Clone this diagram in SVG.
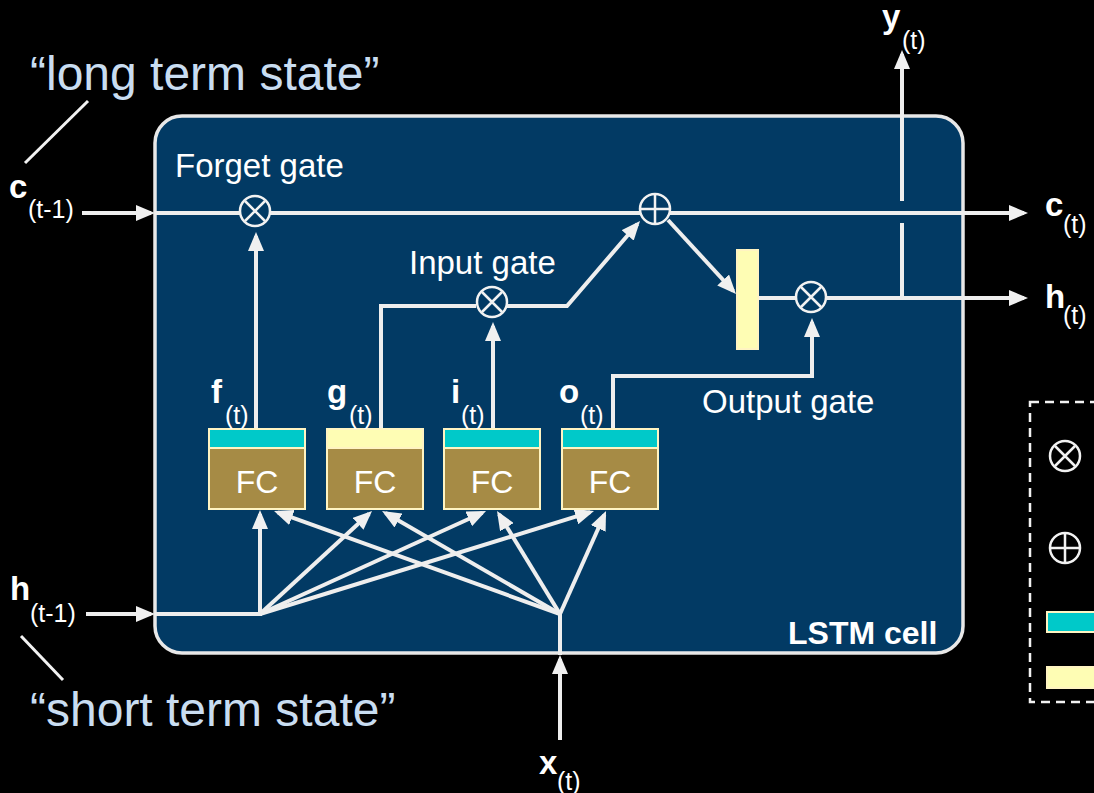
<svg xmlns="http://www.w3.org/2000/svg" width="1094" height="793" viewBox="0 0 1094 793">
<defs>
<style>
.bg{fill:#000}
.cell{fill:#023a64;stroke:#e8e8e8;stroke-width:3.5}
.ln{fill:none;stroke:#eeeeee;stroke-width:4}
.lead{fill:none;stroke:#f2f2f2;stroke-width:3}
.op circle{fill:#023a64;stroke:#f2f2f2;stroke-width:2.5}
.op path{stroke:#f2f2f2;stroke-width:2.5;fill:none}
.lg circle{fill:#000;stroke:#f2f2f2;stroke-width:2.5}
.lg path{stroke:#f2f2f2;stroke-width:2.5;fill:none}
.fcbody{fill:#a68b45;stroke:#fff4c2;stroke-width:2}
.cyan{fill:#00c9c9;stroke:#fff4c2;stroke-width:2}
.yel{fill:#fefdb4;stroke:#fff4c2;stroke-width:2}
.fc{font-family:"Liberation Sans",Arial,sans-serif;font-size:32px;fill:#ffffff;text-anchor:middle}
.gate{font-family:"Liberation Sans",Arial,sans-serif;font-size:33px;fill:#ffffff}
.note{font-family:"Liberation Sans",Arial,sans-serif;font-size:48px;fill:#c9ddf1}
.v{font-family:"Liberation Sans",Arial,sans-serif;font-size:33px;font-weight:bold;fill:#ffffff}
.s{font-family:"Liberation Sans",Arial,sans-serif;font-size:25px;fill:#ffffff}
.title{font-family:"Liberation Sans",Arial,sans-serif;font-size:32px;font-weight:bold;fill:#ffffff}
</style>
<marker id="ah" markerUnits="userSpaceOnUse" viewBox="0 0 19 16" refX="15" refY="8" markerWidth="19" markerHeight="16" orient="auto">
<path d="M0,0 L19,8 L0,16 Z" fill="#f0f0f0"/>
</marker>
</defs>
<rect class="bg" x="0" y="0" width="1094" height="793"/>

<g id="cell">
<rect class="cell" x="155" y="116" width="808" height="537" rx="27" ry="27"/>
<text class="title" x="788" y="644">LSTM cell</text>
</g>

<g id="notes">
<text class="note" x="30" y="90">“long term state”</text>
<line class="lead" x1="88" y1="101" x2="25" y2="163"/>
<text class="note" x="30" y="726">“short term state”</text>
<line class="lead" x1="21" y1="636" x2="63" y2="680"/>
</g>

<g id="labels">
<text class="gate" x="175" y="177">Forget gate</text>
<text class="gate" x="409" y="274">Input gate</text>
<text class="gate" x="702" y="413">Output gate</text>
</g>

<g id="io-labels">
<text x="9" y="198"><tspan class="v">c</tspan><tspan class="s" x="28" y="218">(t-1)</tspan></text>
<text x="10" y="600"><tspan class="v">h</tspan><tspan class="s" x="30" y="622">(t-1)</tspan></text>
<text x="1045" y="216"><tspan class="v">c</tspan><tspan class="s" x="1063" y="233">(t)</tspan></text>
<text x="1045" y="308"><tspan class="v">h</tspan><tspan class="s" x="1063" y="324">(t)</tspan></text>
<text x="882" y="28"><tspan class="v">y</tspan><tspan class="s" x="902" y="49">(t)</tspan></text>
<text x="539" y="774"><tspan class="v">x</tspan><tspan class="s" x="557" y="790">(t)</tspan></text>
</g>

<g id="connectors">
<line class="ln" x1="82" y1="213" x2="151" y2="213" marker-end="url(#ah)"/>
<line class="ln" x1="155" y1="213" x2="240" y2="213"/>
<line class="ln" x1="270" y1="213" x2="640" y2="213"/>
<line class="ln" x1="670" y1="213" x2="1024" y2="213" marker-end="url(#ah)"/>
<line class="ln" x1="256" y1="430" x2="256" y2="236" marker-end="url(#ah)"/>
<polyline class="ln" points="381,430 381,306 476,306"/>
<line class="ln" x1="493" y1="430" x2="493" y2="326" marker-end="url(#ah)"/>
<polyline class="ln" points="507,306 567,306 637.4,224" marker-end="url(#ah)"/>
<line class="ln" x1="668" y1="220" x2="733.3" y2="291" marker-end="url(#ah)"/>
<line class="ln" x1="758" y1="298" x2="796" y2="298"/>
<line class="ln" x1="826" y1="298" x2="1024" y2="298" marker-end="url(#ah)"/>
<line class="ln" x1="902" y1="300" x2="902" y2="223"/>
<line class="ln" x1="902" y1="201" x2="902" y2="54" marker-end="url(#ah)"/>
<polyline class="ln" points="613,430 613,376 812,376 812,322" marker-end="url(#ah)"/>
<line class="ln" x1="86" y1="614" x2="151" y2="614" marker-end="url(#ah)"/>
<line class="ln" x1="155" y1="614" x2="260" y2="614"/>
<line class="ln" x1="560" y1="740" x2="560" y2="659" marker-end="url(#ah)"/>
<line class="ln" x1="560" y1="655" x2="560" y2="614"/>
<line class="ln" x1="260" y1="616" x2="260" y2="514" marker-end="url(#ah)"/>
<line class="ln" x1="260" y1="614" x2="369.1" y2="513.7" marker-end="url(#ah)"/>
<line class="ln" x1="260" y1="614" x2="482.4" y2="512.7" marker-end="url(#ah)"/>
<line class="ln" x1="260" y1="614" x2="590.2" y2="512.2" marker-end="url(#ah)"/>
<line class="ln" x1="560" y1="614" x2="277.8" y2="512.4" marker-end="url(#ah)"/>
<line class="ln" x1="560" y1="614" x2="385.5" y2="513" marker-end="url(#ah)"/>
<line class="ln" x1="560" y1="614" x2="499.1" y2="514.4" marker-end="url(#ah)"/>
<line class="ln" x1="560" y1="614" x2="604.4" y2="514.7" marker-end="url(#ah)"/>
</g>

<g id="forget-op" class="op" transform="translate(255,211)"><circle r="15"/><path d="M-10,-10 L10,10 M10,-10 L-10,10"/></g>
<g id="input-op" class="op" transform="translate(492,302)"><circle r="15"/><path d="M-10,-10 L10,10 M10,-10 L-10,10"/></g>
<g id="add-op" class="op" transform="translate(655,209)"><circle r="15"/><path d="M-15,0 L15,0 M0,-15 L0,15"/></g>
<g id="output-op" class="op" transform="translate(811,297)"><circle r="15"/><path d="M-10,-10 L10,10 M10,-10 L-10,10"/></g>
<g id="tanh-bar"><rect class="yel" x="737" y="250" width="21" height="99" stroke="none"/></g>

<g id="fc-f">
<rect class="fcbody" x="209" y="429" width="96" height="80"/>
<rect class="cyan" x="209" y="429" width="96" height="19"/>
<text class="fc" x="257" y="493">FC</text>
<text x="211" y="403"><tspan class="v">f</tspan><tspan class="s" x="225" y="424">(t)</tspan></text>
</g>
<g id="fc-g">
<rect class="fcbody" x="327" y="429" width="96" height="80"/>
<rect class="yel" x="327" y="429" width="96" height="19"/>
<text class="fc" x="375" y="493">FC</text>
<text x="327" y="403"><tspan class="v">g</tspan><tspan class="s" x="349" y="424">(t)</tspan></text>
</g>
<g id="fc-i">
<rect class="fcbody" x="444" y="429" width="96" height="80"/>
<rect class="cyan" x="444" y="429" width="96" height="19"/>
<text class="fc" x="492" y="493">FC</text>
<text x="451" y="403"><tspan class="v">i</tspan><tspan class="s" x="461" y="424">(t)</tspan></text>
</g>
<g id="fc-o">
<rect class="fcbody" x="562" y="429" width="96" height="80"/>
<rect class="cyan" x="562" y="429" width="96" height="19"/>
<text class="fc" x="610" y="493">FC</text>
<text x="559" y="403"><tspan class="v">o</tspan><tspan class="s" x="580" y="424">(t)</tspan></text>
</g>

<g id="legend">
<rect x="1030" y="402" width="100" height="300" fill="none" stroke="#f2f2f2" stroke-width="2.5" stroke-dasharray="9,6"/>
<g class="lg" transform="translate(1065,456)"><circle r="15"/><path d="M-10,-10 L10,10 M10,-10 L-10,10"/></g>
<g class="lg" transform="translate(1065,548)"><circle r="15"/><path d="M-15,0 L15,0 M0,-15 L0,15"/></g>
<rect class="cyan" x="1047" y="612" width="60" height="20" stroke="#f2f2f2"/>
<rect class="yel" x="1047" y="667" width="60" height="21" stroke="#f2f2f2"/>
</g>
</svg>
